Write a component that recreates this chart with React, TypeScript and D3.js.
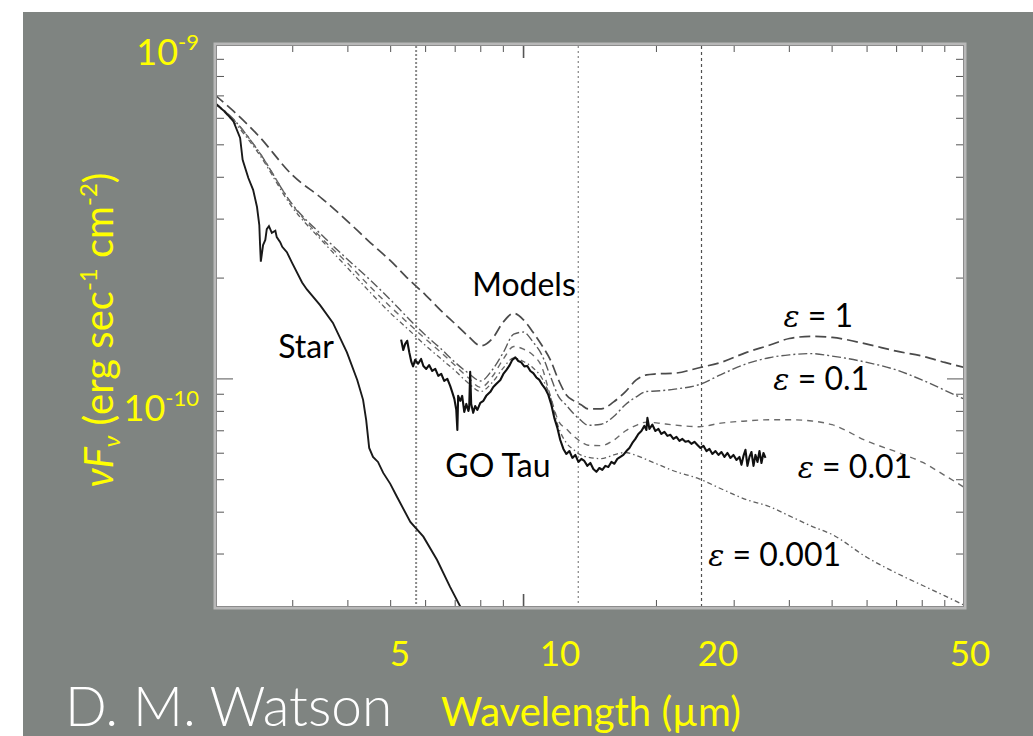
import React from "react";
import * as d3 from "d3";

// Spectral energy distribution of GO Tau with disk models.
// Wavelengths in µm; νFν in units of 1e-10 erg s^-1 cm^-2.

const modelWavelengths = [
  2, 2.2, 2.5, 3, 3.5, 4, 4.5, 5, 5.5, 6, 6.5, 7, 7.5, 8, 8.5, 9, 9.5, 10, 10.5, 11, 11.5, 12, 12.5, 13,
  13.5, 14, 15, 16, 17, 18, 19, 20, 22, 25, 28, 32, 36, 40, 45, 50, 60, 70, 80, 90, 100,
];

const modelEps1 = [
  7.04, 6.31, 5.35, 4.05, 3.45, 2.95, 2.55, 2.25, 1.98, 1.78, 1.6, 1.46, 1.34, 1.255, 1.32, 1.48, 1.57, 1.5,
  1.38, 1.26, 1.14, 0.993, 0.896, 0.86, 0.837, 0.814, 0.814, 0.854, 0.915, 0.993, 1.028, 1.035, 1.04, 1.08,
  1.12, 1.2, 1.26, 1.32, 1.34, 1.33, 1.27, 1.21, 1.17, 1.12, 1.08,
];

const modelEps01 = [
  6.66, 5.97, 4.82, 3.31, 2.68, 2.27, 1.97, 1.72, 1.51, 1.35, 1.23, 1.12, 1.04, 0.986, 1.065, 1.2, 1.36, 1.38,
  1.29, 1.18, 1.02, 0.887, 0.834, 0.786, 0.751, 0.727, 0.732, 0.772, 0.837, 0.884, 0.917, 0.92, 0.932, 0.962,
  1.03, 1.11, 1.157, 1.18, 1.19, 1.17, 1.12, 1.063, 0.992, 0.925, 0.868,
];

const modelEps001 = [
  6.66, 5.96, 4.82, 3.3, 2.62, 2.21, 1.88, 1.64, 1.46, 1.315, 1.2, 1.096, 1.008, 0.943, 1.017, 1.147, 1.25,
  1.227, 1.178, 1.085, 0.889, 0.748, 0.709, 0.674, 0.649, 0.634, 0.632, 0.656, 0.699, 0.727, 0.743, 0.739,
  0.728, 0.72, 0.738, 0.749, 0.755, 0.755, 0.749, 0.73, 0.652, 0.605, 0.564, 0.515, 0.473,
];

const modelEps0001 = [
  6.66, 5.88, 4.75, 3.24, 2.58, 2.14, 1.81, 1.57, 1.4, 1.257, 1.149, 1.057, 0.971, 0.917, 0.977, 1.079, 1.155,
  1.127, 1.08, 1.006, 0.884, 0.717, 0.644, 0.614, 0.592, 0.584, 0.578, 0.593, 0.603, 0.591, 0.574, 0.558,
  0.53, 0.503, 0.47, 0.436, 0.416, 0.39, 0.363, 0.343, 0.293, 0.263, 0.242, 0.225, 0.2105,
];

const starWavelengths = [
  2.0, 2.107, 2.2, 2.28, 2.31, 2.38, 2.44, 2.49, 2.52, 2.53, 2.54, 2.57, 2.6, 2.62, 2.65, 2.69, 2.74, 2.76,
  2.81, 2.84, 2.91, 2.99, 3.15, 3.23, 3.46, 3.7, 3.98, 4.2, 4.33, 4.4, 4.47, 4.56, 4.68, 4.81, 4.99, 5.17,
  5.54, 5.93, 6.37, 6.82, 7.19, 7.3,
];

const starFlux = [
  6.66, 6.27, 5.89, 5.24, 4.51, 3.98, 3.67, 3.26, 2.88, 2.51, 2.24, 2.51, 2.6, 2.8, 2.86, 2.73, 2.77, 2.65,
  2.56, 2.48, 2.39, 2.22, 1.94, 1.85, 1.66, 1.47, 1.2, 0.993, 0.866, 0.755, 0.622, 0.585, 0.565, 0.524,
  0.486, 0.444, 0.374, 0.338, 0.288, 0.239, 0.209, 0.199,
];

const goTauWavelengths = [
  5.28, 5.34, 5.39, 5.45, 5.51, 5.57, 5.62, 5.68, 5.77, 5.86, 5.93, 6.02, 6.11, 6.21, 6.31, 6.41, 6.51, 6.61,
  6.72, 6.82, 6.89, 6.97, 7.04, 7.08, 7.11, 7.19, 7.26, 7.34, 7.42, 7.5, 7.53, 7.57, 7.61, 7.69, 7.77, 7.86,
  7.98, 8.11, 8.23, 8.41, 8.54, 8.67, 8.86, 9.0, 9.14, 9.28, 9.43, 9.58, 9.73, 9.88, 10.04, 10.2, 10.36,
  10.52, 10.69, 10.86, 11.03, 11.2, 11.38, 11.56, 11.74, 11.93, 12.11, 12.31, 12.5, 12.7, 12.9, 13.1, 13.31,
  13.52, 13.73, 13.95, 14.17, 14.39, 14.62, 14.85, 15.08, 15.32, 15.56, 15.81, 16.06, 16.31, 16.57, 16.83,
  17.1, 17.37, 17.64, 17.92, 18.2, 18.49, 18.78, 18.98, 19.08, 19.28, 19.58, 19.89, 20.21, 20.52, 20.85,
  21.18, 21.51, 21.85, 22.2, 22.55, 22.9, 23.26, 23.63, 24.0, 24.38, 24.77, 25.16, 25.56, 25.96, 26.37,
  26.78, 27.21, 27.64, 28.07, 28.52, 28.97, 29.42, 29.89, 30.36, 30.84, 31.16, 31.49, 31.82, 32.15, 32.49,
  32.83, 33.18, 33.52, 33.88, 34.23, 34.59, 34.95, 35.32,
];

const goTauFlux = [
  1.31, 1.22, 1.27, 1.3, 1.2, 1.124, 1.09, 1.14, 1.11, 1.147, 1.093, 1.071, 1.1, 1.056, 1.071, 1.021, 1.035,
  0.986, 1.0, 0.953, 0.915, 0.872, 0.808, 0.704, 0.89, 0.86, 0.89, 0.797, 0.842, 0.802, 0.819, 1.05, 0.842,
  0.792, 0.83, 0.808, 0.848, 0.86, 0.89, 0.915, 0.946, 0.966, 0.993, 1.035, 1.063, 1.093, 1.14, 1.16, 1.131,
  1.12, 1.09, 1.093, 1.056, 1.04, 1.01, 0.993, 0.96, 0.934, 0.896, 0.837, 0.765, 0.714, 0.657, 0.618, 0.597,
  0.609, 0.581, 0.593, 0.565, 0.577, 0.569, 0.55, 0.561, 0.538, 0.528, 0.542, 0.535, 0.55, 0.546, 0.565,
  0.558, 0.577, 0.585, 0.593, 0.609, 0.622, 0.644, 0.662, 0.685, 0.699, 0.724, 0.704, 0.765, 0.709, 0.73,
  0.699, 0.709, 0.685, 0.695, 0.676, 0.681, 0.662, 0.671, 0.653, 0.662, 0.649, 0.653, 0.64, 0.649, 0.635,
  0.622, 0.631, 0.609, 0.618, 0.597, 0.609, 0.593, 0.605, 0.585, 0.601, 0.581, 0.593, 0.573, 0.585, 0.554,
  0.589, 0.614, 0.55, 0.585, 0.605, 0.55, 0.593, 0.565, 0.609, 0.561, 0.601, 0.581,
];

// Tick positions of the original frame
const xMinorTicks = [3, 4, 5, 6, 7, 8, 9, 20, 30, 40, 50, 60, 70, 80, 90];
const xMajorTicks = [10];
const yMinorTicks = [0.3, 0.4, 0.5, 0.6, 0.7, 0.8, 0.9, 2, 3, 4, 5, 6, 7, 8, 9];
const yMajorTicks = [1];

// Spectrograph module boundaries (µm)
const moduleBoundaries = [5.71, 13.3, 25.3];

// Slide overlay labels
const slideXTicks = [5, 10, 20, 50];
const slideYExponents = [-9, -10];

const labelAnchors = [
  { text: "Models", wl: 7.65, flux: 1.77, italicEps: false },
  { text: "Star", wl: 2.78, flux: 1.155, italicEps: false },
  { text: "GO Tau", wl: 6.65, flux: 0.51, italicEps: false },
  { text: " = 1", wl: 38.8, flux: 1.43, italicEps: true },
  { text: " = 0.1", wl: 36.8, flux: 0.927, italicEps: true },
  { text: " = 0.01", wl: 41.8, flux: 0.506, italicEps: true },
  { text: " = 0.001", wl: 26.2, flux: 0.2765, italicEps: true },
];

const W = 1033;
const H = 736;
const plot = { left: 215, right: 965, top: 44, bottom: 608 };
const YELLOW = "#ffff00";
const FONT = "Lato, 'Open Sans', sans-serif";

export default function App() {
  const x = d3.scaleLog().domain([2, 100]).range([plot.left, plot.right]);
  const y = d3.scaleLog().domain([0.207, 10]).range([plot.bottom, plot.top]);

  // slide-label placement scales
  const xLabel = d3.scaleLog().domain([5, 10, 20, 50]).range([400, 560, 718, 970]);
  const yLabel = d3.scaleLinear().domain([-10, -9]).range([421, 65]);

  const smooth = d3
    .line<[number, number]>()
    .x((d) => x(d[0]))
    .y((d) => y(d[1]))
    .curve(d3.curveMonotoneX);
  const jagged = d3
    .line<[number, number]>()
    .x((d) => x(d[0]))
    .y((d) => y(d[1]));

  const pair = (wl: number[], f: number[]) => wl.map((w, i) => [w, f[i]] as [number, number]);

  const models = [
    { values: modelEps1, dash: "11,5", color: "#4a4a4a", width: 1.7 },
    { values: modelEps01, dash: "9,3,2,3", color: "#5a5a5a", width: 1.4 },
    { values: modelEps001, dash: "6,5", color: "#6a6a6a", width: 1.4 },
    { values: modelEps0001, dash: "5,3,1.5,3", color: "#606060", width: 1.3 },
  ];

  const boundaryStyles = [
    { dash: "2,2", color: "#8a8a8a", width: 2 },
    { dash: "2,3", color: "#6a6a6a", width: 1 },
    { dash: "3,3", color: "#505050", width: 1.2 },
  ];

  return (
    <svg
      width={W}
      height={H}
      style={{ position: "absolute", left: 0, top: 0, display: "block" }}
      fontFamily={FONT}
    >
      <rect x={0} y={0} width={W} height={H} fill="#ffffff" />
      <rect x={23} y={12} width={W - 23} height={H - 12} fill="#7f8481" />

      {/* plot frame */}
      <rect
        x={plot.left}
        y={plot.top}
        width={plot.right - plot.left}
        height={plot.bottom - plot.top}
        fill="#ffffff"
        stroke="#b8b8b8"
        strokeWidth={3}
      />
      <rect
        x={plot.left + 1.5}
        y={plot.top + 1.5}
        width={plot.right - plot.left - 3}
        height={plot.bottom - plot.top - 3}
        fill="none"
        stroke="#8c8c8c"
        strokeWidth={1}
      />

      <defs>
        <clipPath id="plot-clip">
          <rect x={plot.left + 2} y={plot.top + 2} width={plot.right - plot.left - 4} height={plot.bottom - plot.top - 4} />
        </clipPath>
      </defs>

      {/* ticks */}
      <g stroke="#555" strokeWidth={1}>
        {xMinorTicks.map((t) => (
          <g key={"xm" + t}>
            <line x1={x(t)} x2={x(t)} y1={plot.top + 2} y2={plot.top + 8} />
            <line x1={x(t)} x2={x(t)} y1={plot.bottom - 2} y2={plot.bottom - 8} />
          </g>
        ))}
        {xMajorTicks.map((t) => (
          <g key={"xM" + t} strokeWidth={1.6}>
            <line x1={x(t)} x2={x(t)} y1={plot.top + 2} y2={plot.top + 14} />
            <line x1={x(t)} x2={x(t)} y1={plot.bottom - 2} y2={plot.bottom - 14} />
          </g>
        ))}
        {yMinorTicks.map((t) => (
          <g key={"ym" + t}>
            <line x1={plot.left + 2} x2={plot.left + 9} y1={y(t)} y2={y(t)} />
            <line x1={plot.right - 2} x2={plot.right - 9} y1={y(t)} y2={y(t)} />
          </g>
        ))}
        {yMajorTicks.map((t) => (
          <g key={"yM" + t}>
            <line x1={plot.left + 2} x2={plot.left + 18} y1={y(t)} y2={y(t)} />
            <line x1={plot.right - 2} x2={plot.right - 18} y1={y(t)} y2={y(t)} />
          </g>
        ))}
      </g>

      {/* module boundaries */}
      {moduleBoundaries.map((b, i) => (
        <line
          key={"b" + b}
          x1={x(b)}
          x2={x(b)}
          y1={plot.top + 2}
          y2={plot.bottom - 2}
          stroke={boundaryStyles[i].color}
          strokeWidth={boundaryStyles[i].width}
          strokeDasharray={boundaryStyles[i].dash}
        />
      ))}

      <g clipPath="url(#plot-clip)" fill="none">
        {models.map((m, i) => (
          <path
            key={"m" + i}
            d={smooth(pair(modelWavelengths, m.values)) || ""}
            stroke={m.color}
            strokeWidth={m.width}
            strokeDasharray={m.dash}
          />
        ))}
        <path d={jagged(pair(starWavelengths, starFlux)) || ""} stroke="#1a1a1a" strokeWidth={1.9} />
        <path
          d={jagged(pair(goTauWavelengths, goTauFlux)) || ""}
          stroke="#111"
          strokeWidth={2.1}
          strokeLinejoin="round"
        />
      </g>

      {/* annotations inside the plot */}
      <g fill="#000" fontSize={32}>
        {labelAnchors.map((a) => (
          <text key={a.text} x={x(a.wl)} y={y(a.flux)}>
            {a.italicEps ? (
              <tspan fontStyle="italic" fontFamily="'DejaVu Serif', serif" fontSize={30}>
                ε
              </tspan>
            ) : null}
            {a.text}
          </text>
        ))}
      </g>

      {/* slide overlay: y exponents */}
      <g fill={YELLOW}>
        {slideYExponents.map((e) => (
          <text key={e} x={199} y={yLabel(e)} textAnchor="end" fontSize={36}>
            <tspan>10</tspan>
            <tspan fontSize={22} dy={-15}>
              {String(e)}
            </tspan>
          </text>
        ))}
      </g>

      {/* slide overlay: x labels */}
      <g fill={YELLOW} fontSize={35} textAnchor="middle">
        {slideXTicks.map((t) => (
          <text key={t} x={xLabel(t)} y={666}>
            {t}
          </text>
        ))}
      </g>

      {/* y axis title */}
      <text transform="translate(113,330) rotate(-90)" textAnchor="middle" fill={YELLOW} fontSize={40}>
        <tspan fontStyle="italic">νF</tspan>
        <tspan fontStyle="italic" fontSize={24} dy={7}>
          ν
        </tspan>
        <tspan dy={-7}> (erg sec</tspan>
        <tspan fontSize={24} dy={-16}>
          -1
        </tspan>
        <tspan dy={16}> cm</tspan>
        <tspan fontSize={24} dy={-16}>
          -2
        </tspan>
        <tspan dy={16}>)</tspan>
      </text>

      {/* x axis title */}
      <text x={441} y={726} fill={YELLOW} fontSize={40}>
        Wavelength (µm)
      </text>

      <text x={65} y={726} fill="#ffffff" fontSize={55} fontWeight={300}>
        D. M. Watson
      </text>
    </svg>
  );
}
